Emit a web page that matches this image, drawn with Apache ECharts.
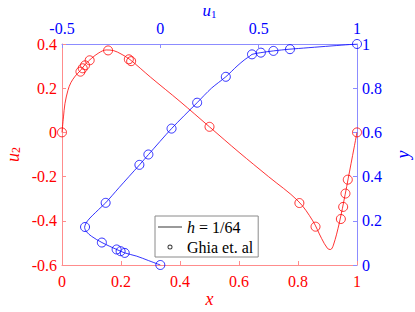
<!DOCTYPE html>
<html><head><meta charset="utf-8">
<script src="https://cdn.jsdelivr.net/npm/echarts@6/dist/echarts.min.js"></script>
<style>html,body{margin:0;padding:0;background:#fff}#c{width:415px;height:312px}</style>
</head><body><div id="c"></div>
<script>
// Red: u2 along horizontal centerline (x, u2), computed h=1/64
const lineX = [0, 0.005, 0.01, 0.02, 0.03, 0.045, 0.0625, 0.08, 0.1, 0.125, 0.15, 0.175, 0.2, 0.23, 0.3, 0.4, 0.5, 0.6, 0.7, 0.8, 0.85, 0.88, 0.9, 0.91, 0.92, 0.94, 0.96, 0.97, 0.98, 0.99, 1];
const lineU2 = [0, 0.07, 0.13, 0.19, 0.225, 0.255, 0.28, 0.31, 0.335, 0.36, 0.373, 0.37, 0.355, 0.33, 0.25, 0.14, 0.025, -0.09, -0.2, -0.31, -0.4, -0.48, -0.525, -0.53, -0.51, -0.41, -0.28, -0.21, -0.14, -0.07, 0];
// Blue: u1 along vertical centerline (u1, y), computed h=1/64
const lineY = [0, 0.02, 0.04, 0.0547, 0.0703, 0.1016, 0.13, 0.15, 0.17, 0.2, 0.25, 0.2813, 0.35, 0.4531, 0.5, 0.6172, 0.7344, 0.8, 0.8516, 0.9, 0.93, 0.945, 0.9531, 0.9609, 0.9688, 0.9766, 1];
const lineU1 = [0, -0.06, -0.12, -0.181, -0.222, -0.297, -0.35, -0.375, -0.385, -0.37, -0.315, -0.278, -0.21, -0.106, -0.06, 0.057, 0.187, 0.26, 0.333, 0.39, 0.43, 0.455, 0.466, 0.511, 0.575, 0.659, 1];
// Ghia et al. reference points
const ghiaX = [0, 0.0625, 0.0703, 0.0781, 0.0938, 0.1563, 0.2266, 0.2344, 0.5, 0.8047, 0.8594, 0.9453, 0.9531, 0.9609, 0.9688, 1];
const ghiaU2 = [0, 0.27485, 0.29012, 0.30353, 0.32627, 0.37095, 0.33075, 0.32235, 0.02526, -0.31966, -0.42665, -0.39188, -0.33714, -0.27669, -0.21388, 0];
const ghiaY = [0, 0.0547, 0.0625, 0.0703, 0.1016, 0.1719, 0.2813, 0.4531, 0.5, 0.6172, 0.7344, 0.8516, 0.9531, 0.9609, 0.9688, 0.9766, 1];
const ghiaU1 = [0, -0.18109, -0.20196, -0.2222, -0.2973, -0.38289, -0.27805, -0.10648, -0.0608, 0.05702, 0.18719, 0.33304, 0.46604, 0.51117, 0.57492, 0.65928, 1];
const legendNames = ['h = 1/64', 'Ghia et. al'];

const RED = '#ff0000', BLUE = '#0000ff';
const FONT = 'Liberation Serif';
const zip = (a, b) => a.map((v, i) => [v, b[i]]);

const axisCommon = (color, lineColor, margin) => ({
  nameMoveOverlap: false,
  axisLine: { show: true, onZero: false, lineStyle: { color: lineColor, width: 1 } },
  axisTick: { show: true, inside: true, length: 4, lineStyle: { color: lineColor } },
  axisLabel: { color: color, fontFamily: FONT, fontSize: 16, margin: margin },
  splitLine: { show: false }
});

const chart = echarts.init(document.getElementById('c'), null, { renderer: 'svg' });
chart.setOption({
  animation: false,
  backgroundColor: '#fff',
  textStyle: { fontFamily: FONT },
  grid: { left: 62, right: 58, top: 44, bottom: 47, containLabel: false, outerBoundsMode: 'none' },
  xAxis: [
    Object.assign({ type: 'value', position: 'bottom', min: 0, max: 1, interval: 0.2,
      name: '{i|x}', nameLocation: 'middle', nameGap: 25,
      nameTextStyle: { rich: { i: { fontFamily: FONT, fontStyle: 'italic', fontSize: 18, color: RED } } }
    }, axisCommon(RED, '#ff8c8c', 8)),
    Object.assign({ type: 'value', position: 'top', min: -0.5, max: 1, interval: 0.5,
      name: '{i|u}{s|1}', nameLocation: 'middle', nameGap: 25,
      nameTextStyle: { rich: { i: { fontFamily: FONT, fontStyle: 'italic', fontSize: 17, color: BLUE }, s: { fontFamily: FONT, fontSize: 11, color: BLUE, padding: [6, 0, 0, 0] } } }
    }, axisCommon(BLUE, '#8c8cff', 8))
  ],
  yAxis: [
    Object.assign({ type: 'value', position: 'left', min: -0.6, max: 0.4, interval: 0.2,
      name: '{i|u}{s|2}', nameLocation: 'middle', nameGap: 40, nameRotate: 90,
      nameTextStyle: { rich: { i: { fontFamily: FONT, fontStyle: 'italic', fontSize: 18, color: RED }, s: { fontFamily: FONT, fontSize: 12, color: RED, padding: [7, 0, 0, 0] } } }
    }, axisCommon(RED, '#ff8c8c', 5)),
    Object.assign({ type: 'value', position: 'right', min: 0, max: 1, interval: 0.2,
      name: '{i|y}', nameLocation: 'middle', nameGap: 37, nameRotate: 90,
      nameTextStyle: { rich: { i: { fontFamily: FONT, fontStyle: 'italic', fontSize: 18, color: BLUE } } }
    }, axisCommon(BLUE, '#8c8cff', 5))
  ],
  legend: {
    orient: 'vertical', left: 155, top: 216,
    data: [
      { name: legendNames[0], icon: 'path://M0,0M0,2.6L24,2.6L24,3.4L0,3.4ZM24,6' },
      { name: legendNames[1], icon: 'path://M0,0M9.5,3A2.5,2.5,0,1,1,14.5,3A2.5,2.5,0,1,1,9.5,3ZM10.4,3A1.6,1.6,0,1,0,13.6,3A1.6,1.6,0,1,0,10.4,3ZM24,6' }
    ],
    itemWidth: 24, itemHeight: 6, itemGap: 4,
    backgroundColor: '#fff', borderColor: '#8a8a8a', borderWidth: 1, borderRadius: 0,
    padding: [3, 5, 2, 3],
    selectedMode: false,
    textStyle: { fontFamily: FONT, fontSize: 16, color: '#000',
      rich: { i: { fontFamily: FONT, fontStyle: 'italic', fontSize: 16, color: '#000' } } },
    formatter: n => n === legendNames[0] ? '{i|h} = 1/64' : n
  },
  series: [
    { name: 'red-line', type: 'line', xAxisIndex: 0, yAxisIndex: 0, data: zip(lineX, lineU2),
      smooth: 0.35, symbol: 'none', lineStyle: { color: RED, width: 0.8 }, z: 2 },
    { name: 'red-ghia', type: 'scatter', xAxisIndex: 0, yAxisIndex: 0, data: zip(ghiaX, ghiaU2),
      symbol: 'circle', symbolSize: 9, itemStyle: { color: 'rgba(255,255,255,0)', borderColor: RED, borderWidth: 1 }, z: 3 },
    { name: 'blue-line', type: 'line', xAxisIndex: 1, yAxisIndex: 1, data: zip(lineU1, lineY),
      smooth: 0.3, symbol: 'none', lineStyle: { color: BLUE, width: 0.8 }, z: 2 },
    { name: 'blue-ghia', type: 'scatter', xAxisIndex: 1, yAxisIndex: 1, data: zip(ghiaU1, ghiaY),
      symbol: 'circle', symbolSize: 9, itemStyle: { color: 'rgba(255,255,255,0)', borderColor: BLUE, borderWidth: 1 }, z: 3 },
    { name: legendNames[0], type: 'line', data: [], symbol: 'none', lineStyle: { color: '#000', width: 0.8 }, itemStyle: { color: '#000' } },
    { name: legendNames[1], type: 'scatter', data: [], symbol: 'circle', itemStyle: { color: '#000' } }
  ]
});
</script></body></html>
